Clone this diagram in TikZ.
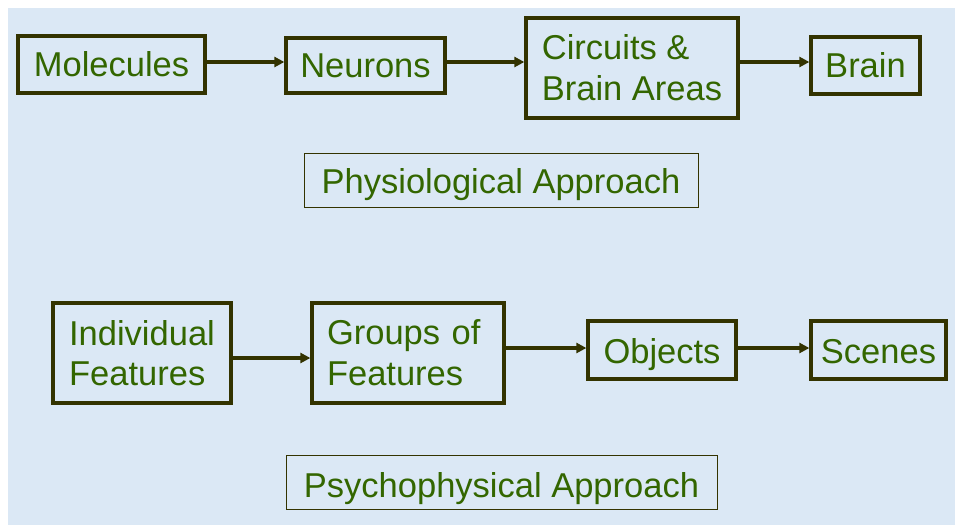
\documentclass[tikz,border=0pt]{standalone}
\usepackage{fontspec}
\setmainfont{Liberation Sans}
\usetikzlibrary{arrows.meta}
\definecolor{bgblue}{RGB}{219,232,245}
\definecolor{txtgreen}{RGB}{51,102,0}
\definecolor{bordol}{RGB}{51,51,0}
\begin{document}
\begin{tikzpicture}[x=1pt,y=-1pt,
  stagebox/.style={draw=bordol, line width=3.3pt, inner sep=0pt, text=txtgreen,
    font=\fontsize{34.5}{41}\selectfont, align=left},
  approachbox/.style={draw=bordol, line width=1pt, inner sep=0pt, text=txtgreen,
    font=\fontsize{34.5}{41}\selectfont, minimum height=54pt, text depth=0pt},
  arr/.style={draw=bordol, line width=3.2pt, -{Triangle[length=10pt,width=10pt]}}]
\useasboundingbox (0,0) rectangle (955,525);
\fill[white] (0,0) rectangle (955,525);
\fill[bgblue] (8,8) rectangle (955,525);
% top row
\node[stagebox, minimum width=187pt, minimum height=57pt] (mol) at (111.5,64.5) {Molecules};
\node[stagebox, minimum width=159pt, minimum height=55pt] (neu) at (365.5,65.5) {Neurons};
\node[stagebox, minimum width=212pt, minimum height=100pt] (cir) at (632,68) {Circuits \&\\Brain Areas};
\node[stagebox, minimum width=109pt, minimum height=57pt] (brain) at (865.5,65.5) {Brain};
\node[approachbox, minimum width=394pt, text height=26pt] (phys) at (501,180) {Physiological Approach};
\draw[arr] (mol.east |- 0,62) -- (neu.west |- 0,62);
\draw[arr] (neu.east |- 0,62) -- (cir.west |- 0,62);
\draw[arr] (cir.east |- 0,62) -- (brain.west |- 0,62);
% bottom row
\node[stagebox, minimum width=178pt, minimum height=100pt, font=\fontsize{34.5}{39.5}\selectfont] (indf) at (142,353) {Individual\\Features};
\node[stagebox, minimum width=192pt, minimum height=100pt, text width=162pt] (grpf) at (408,353) {Groups of\\Features};
\node[stagebox, minimum width=148pt, minimum height=58pt, text height=26pt, text depth=0pt] (obj) at (662,350) {Objects};
\node[stagebox, minimum width=135pt, minimum height=58pt, text height=26pt, text depth=0pt] (scn) at (878.5,350) {Scenes};
\node[approachbox, minimum width=431pt, text height=30pt] (psy) at (501.5,482) {Psychophysical Approach};
\draw[arr] (indf.east |- 0,358) -- (grpf.west |- 0,358);
\draw[arr] (grpf.east |- 0,348) -- (obj.west |- 0,348);
\draw[arr] (obj.east |- 0,348) -- (scn.west |- 0,348);
\end{tikzpicture}
\end{document}
